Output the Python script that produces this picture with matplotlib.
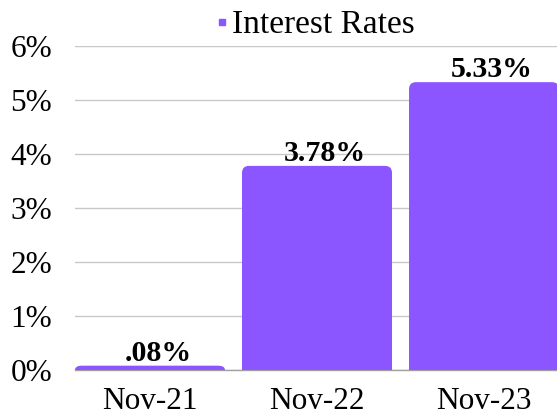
import matplotlib
matplotlib.use("Agg")
import matplotlib.pyplot as plt
from matplotlib.path import Path
from matplotlib.patches import PathPatch
from matplotlib.lines import Line2D

categories = ["Nov-21", "Nov-22", "Nov-23"]
values = [0.08, 3.78, 5.33]
labels = [".08%", "3.78%", "5.33%"]
yticks = [0, 1, 2, 3, 4, 5, 6]
ytick_labels = ["0%", "1%", "2%", "3%", "4%", "5%", "6%"]
series_name = "Interest Rates"

color = "#8B55FF"
plt.rcParams['font.family'] = ['Liberation Serif', 'DejaVu Serif']

W, H = 557, 415
fig = plt.figure(figsize=(W / 100, H / 100), dpi=100)
left_px, right_px, top_px, bot_px = 75, 557, 46, 370
ax = fig.add_axes([left_px / W, (H - bot_px) / H, (right_px - left_px) / W, (bot_px - top_px) / H])

bw = 0.898
x = list(range(len(categories)))
ax.set_xlim(-0.449, 2.437)
ax.set_ylim(0, 6)

# pixel -> data conversions for corner radius
px_per_x = (right_px - left_px) / (2.437 + 0.449)
px_per_y = (bot_px - top_px) / 6.0
r_px = 7
rx = r_px / px_per_x
ry_full = r_px / px_per_y

for xi, v in zip(x, values):
    x0, x1 = xi - bw / 2, xi + bw / 2
    ry = min(ry_full, v)
    verts = [(x0, 0), (x0, v - ry), (x0, v), (x0 + rx, v), (x1 - rx, v),
             (x1, v), (x1, v - ry), (x1, 0), (x0, 0)]
    codes = [Path.MOVETO, Path.LINETO, Path.CURVE3, Path.CURVE3, Path.LINETO,
             Path.CURVE3, Path.CURVE3, Path.LINETO, Path.CLOSEPOLY]
    ax.add_patch(PathPatch(Path(verts, codes), facecolor=color, edgecolor='none', zorder=3))

for xi, v, lab in zip(x, values, labels):
    ax.annotate(lab, (xi, v), xytext=(5.8, 3.6), textcoords='offset points',
                ha='center', va='baseline', fontsize=21.5, fontweight='bold', color='black',
                zorder=4, annotation_clip=False)

ax.set_xticks(x)
ax.set_xticklabels(categories, fontsize=22.5)
ax.set_yticks(yticks)
ax.set_yticklabels(ytick_labels, fontsize=22.5)
ax.tick_params(axis='y', length=0, pad=16.5)
ax.tick_params(axis='x', length=0, pad=12)
ax.yaxis.grid(True, color='#C8C8C8', linewidth=1.0, zorder=0)
ax.set_axisbelow(True)
for s in ['top', 'right', 'left']:
    ax.spines[s].set_visible(False)
ax.spines['bottom'].set_color('#A0A0A0')
ax.spines['bottom'].set_linewidth(1.0)

handle = Line2D([], [], marker='s', linestyle='none', markersize=4.5, color=color)
ax.legend([handle], [series_name], loc='center', bbox_to_anchor=(0.5, (bot_px - 25) / (bot_px - top_px)),
          frameon=False, fontsize=24, handlelength=0.3, handletextpad=0.15,
          borderaxespad=0, borderpad=0.0)

fig.savefig("out.png", dpi=100)
